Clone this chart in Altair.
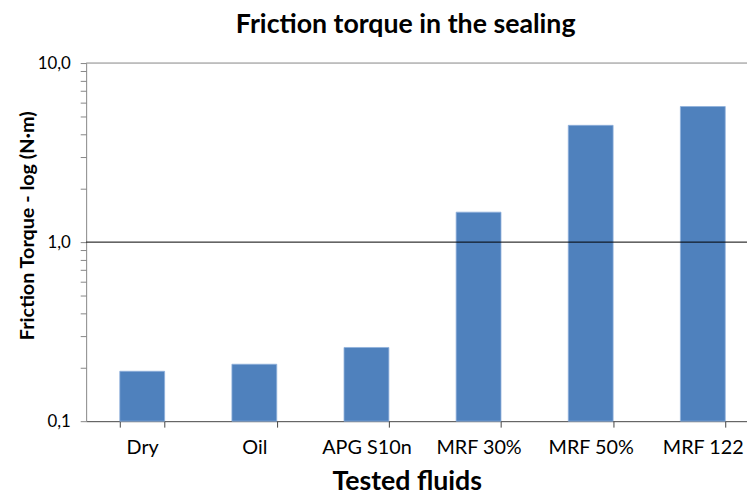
import altair as alt
import pandas as pd

fluids = ["Dry", "Oil", "APG S10n", "MRF 30%", "MRF 50%", "MRF 122"]
torque = [0.19, 0.208, 0.258, 1.47, 4.49, 5.72]
ytick_values = [0.1, 0.2, 0.3, 0.4, 0.5, 0.6, 0.7, 0.8, 0.9,
                1, 2, 3, 4, 5, 6, 7, 8, 9, 10]
grid_mid = [1]
grid_top = [10]

df = pd.DataFrame({"fluid": fluids, "torque": torque})
FONT = "Lato"

yscale = alt.Scale(type="log", domain=[0.1, 10], nice=False)
xscale = alt.Scale(paddingInner=0.6, paddingOuter=0.3, range=[0, 680])

bars = alt.Chart(df).mark_bar(color="#4F81BD", stroke="#8FB0DC", strokeWidth=0.8).encode(
    x=alt.X("fluid:N", sort=fluids, scale=xscale,
            axis=alt.Axis(title="Tested fluids", labelAngle=0, tickBand="extent",
                          labelFontSize=20, labelFont=FONT, labelColor="#000",
                          titleFontSize=27, titleFont=FONT, titleFontWeight="bold",
                          titleColor="#000", titlePadding=11, labelPadding=11,
                          titleX=324, titleAlign="center",
                          tickSize=6, tickColor="#444", domainColor="#444",
                          grid=False)),
    y=alt.Y("torque:Q", scale=yscale,
            axis=alt.Axis(title="Friction Torque - log (N·m)", values=ytick_values,
                          labelExpr="datum.value == 10 ? '10,0' : datum.value == 1 ? '1,0' : datum.value == 0.1 ? '0,1' : ''",
                          labelFontSize=17, labelFont=FONT, labelColor="#000",
                          titleFontSize=20, titleFont=FONT, titleFontWeight="bold",
                          titleColor="#000", labelPadding=10,
                          titleX=-49, titleY=164, titleAlign="center", titleBaseline="bottom",
                          tickSize=6, tickColor="#868686", domainColor="#868686",
                          grid=False)),
    y2=alt.datum(0.1),
)

rule_mid = alt.Chart(pd.DataFrame({"v": grid_mid})).mark_rule(color="#000", strokeWidth=1).encode(
    y=alt.Y("v:Q", scale=yscale))
rule_top = alt.Chart(pd.DataFrame({"v": grid_top})).mark_rule(color="#868686", strokeWidth=1).encode(
    y=alt.Y("v:Q", scale=yscale))

chart = alt.layer(bars, rule_mid, rule_top).properties(
    width=668, height=362,
    title=alt.TitleParams("Friction torque in the sealing", font=FONT, fontSize=27,
                          fontWeight="bold", color="#000", offset=15, dx=-11),
    autosize=alt.AutoSizeParams(type="none"),
    padding={"left": 79, "top": 53, "right": 0, "bottom": 76},
).configure_view(stroke=None)

chart.save("out.html", embed_options={"renderer": "svg", "actions": False})
